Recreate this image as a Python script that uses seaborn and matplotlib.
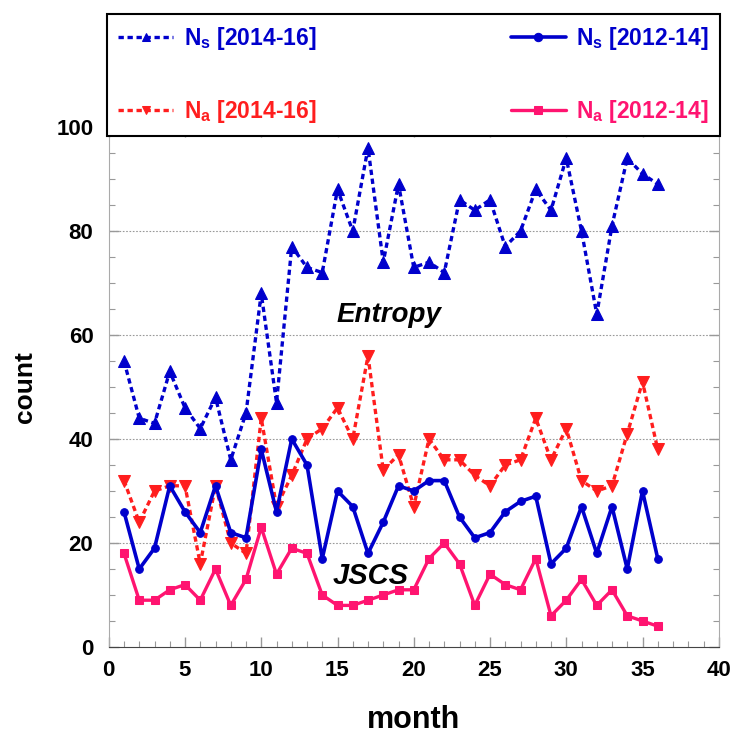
import matplotlib
matplotlib.use("Agg")
import matplotlib.pyplot as plt
from matplotlib.ticker import MultipleLocator
import pandas as pd
import seaborn as sns

# ── data ────────────────────────────────────────────────────────────────────
months = list(range(1, 37))

ns_1416 = [55, 44, 43, 53, 46, 42, 48, 36, 45, 68, 47, 77, 73, 72, 88, 80, 96, 74,
           89, 73, 74, 72, 86, 84, 86, 77, 80, 88, 84, 94, 80, 64, 81, 94, 91, 89]
na_1416 = [32, 24, 30, 31, 31, 16, 31, 20, 18, 44, 27, 33, 40, 42, 46, 40, 56, 34,
           37, 27, 40, 36, 36, 33, 31, 35, 36, 44, 36, 42, 32, 30, 31, 41, 51, 38]
ns_1214 = [26, 15, 19, 31, 26, 22, 31, 22, 21, 38, 26, 40, 35, 17, 30, 27, 18, 24,
           31, 30, 32, 32, 25, 21, 22, 26, 28, 29, 16, 19, 27, 18, 27, 15, 30, 17]
na_1214 = [18, 9, 9, 11, 12, 9, 15, 8, 13, 23, 14, 19, 18, 10, 8, 8, 9, 10,
           11, 11, 17, 20, 16, 8, 14, 12, 11, 17, 6, 9, 13, 8, 11, 6, 5, 4]

BLUE = "#0000CC"
RED = "#FF1E1E"
PINK = "#FF1470"

sns.set_style("ticks")
plt.rcParams["font.family"] = ["Liberation Sans", "DejaVu Sans"]
plt.rcParams["font.weight"] = "bold"
plt.rcParams["text.color"] = "black"
plt.rcParams["axes.labelcolor"] = "black"
plt.rcParams["xtick.labelcolor"] = "black"
plt.rcParams["ytick.labelcolor"] = "black"
plt.rcParams["mathtext.fontset"] = "custom"
plt.rcParams["mathtext.rm"] = "Liberation Sans:bold"
plt.rcParams["mathtext.it"] = "Liberation Sans:bold:italic"
plt.rcParams["mathtext.bf"] = "Liberation Sans:bold"

df = pd.DataFrame({"month": months, "ns_1416": ns_1416, "na_1416": na_1416,
                   "ns_1214": ns_1214, "na_1214": na_1214})

fig = plt.figure(figsize=(7.32, 7.34), dpi=100)
ax = fig.add_axes([108.75 / 732, 1 - 647 / 734, 610 / 732, 520 / 734])

dash = (0, (1.6, 1.1))
sns.lineplot(data=df, x="month", y="na_1214", color=PINK, lw=2.4, marker="s",
             markersize=5.5, markeredgecolor=PINK, ax=ax, label="N$_\\mathrm{a}$ [2012-14]")
sns.lineplot(data=df, x="month", y="na_1416", color=RED, lw=2.4, linestyle=dash,
             marker="v", markersize=8.5, markeredgecolor=RED, ax=ax,
             label="N$_\\mathrm{a}$ [2014-16]")
sns.lineplot(data=df, x="month", y="ns_1214", color=BLUE, lw=2.6, marker="o",
             markersize=5.5, markeredgecolor=BLUE, ax=ax, label="N$_\\mathrm{s}$ [2012-14]")
sns.lineplot(data=df, x="month", y="ns_1416", color=BLUE, lw=2.4, linestyle=dash,
             marker="^", markersize=8.5, markeredgecolor=BLUE, ax=ax,
             label="N$_\\mathrm{s}$ [2014-16]")

ax.set_xlim(0, 40)
ax.set_ylim(0, 100)
ax.xaxis.set_major_locator(MultipleLocator(5))
ax.xaxis.set_minor_locator(MultipleLocator(1))
ax.yaxis.set_major_locator(MultipleLocator(20))
ax.yaxis.set_minor_locator(MultipleLocator(5))
ax.tick_params(which="both", direction="in", color="#999999", top=True, right=True,
               labelsize=16)
ax.tick_params(which="major", length=7, width=1)
ax.tick_params(which="minor", length=4, width=0.8)
ax.tick_params(axis="y", pad=11)
ax.tick_params(axis="x", pad=9)
for lab in ax.get_xticklabels() + ax.get_yticklabels():
    lab.set_fontweight("bold")

for side in ["left", "right", "top"]:
    ax.spines[side].set_color("#aaaaaa")
ax.spines["bottom"].set_color("#444444")
ax.spines["bottom"].set_linestyle((0, (1, 1)))

for yv in [20, 40, 60, 80]:
    ax.axhline(yv, color="#999999", lw=0.8, ls=(0, (1.5, 1.5)), zorder=0)

ax.set_xlabel("month", fontsize=22, fontweight="bold", va="center")
ax.xaxis.set_label_coords(0.5, -(720 - 647) / 520)
ax.set_ylabel("count", fontsize=19, fontweight="bold", va="center")
ax.yaxis.set_label_coords((25 - 108.75) / 610, 0.5)

ax.text(18.4, 63.8, "Entropy", fontsize=20, fontweight="bold", style="italic",
        ha="center", va="center")
ax.text(17.2, 13.6, "JSCS", fontsize=21, fontweight="bold", style="italic",
        ha="center", va="center")

# legend box over the top of the axes
handles, labels = ax.get_legend_handles_labels()
order = [3, 1, 2, 0]
ax.get_legend().remove()
leg = fig.legend([handles[i] for i in order], [labels[i] for i in order],
                 loc="upper left", bbox_to_anchor=(107 / 732, 1 - 142 / 734, 613 / 732, 128 / 734),
                 mode="expand", ncol=2, numpoints=1, fontsize=16.5, frameon=True,
                 fancybox=False, framealpha=1, edgecolor="black", borderaxespad=0,
                 labelspacing=1.98, handlelength=2.4, handletextpad=0.45, borderpad=0.5)
leg.get_frame().set_linewidth(1.5)
for txt, i in zip(leg.get_texts(), order):
    txt.set_color(handles[i].get_color())
    txt.set_fontweight("bold")
for h in leg.legend_handles:
    h.set_markersize(6)

plt.savefig("out.png", dpi=100)
plt.close()
